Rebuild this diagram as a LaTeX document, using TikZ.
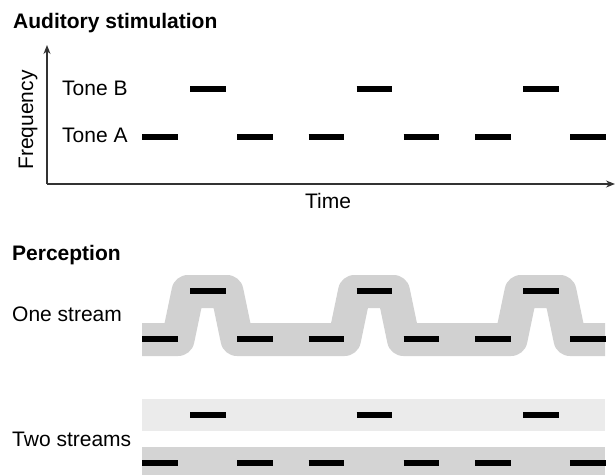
\documentclass[tikz,border=0pt]{standalone}
\usepackage{fontspec}
\setmainfont{Liberation Sans}
\usetikzlibrary{arrows.meta}
\begin{document}
\begin{tikzpicture}[x=1pt,y=-1pt,
  lbl/.style={anchor=base west,inner sep=0pt,font=\fontsize{21}{25}\selectfont},
  ttl/.style={lbl,font=\fontsize{21}{25}\selectfont\bfseries},
  tonedash/.style={line width=6pt,line cap=butt},
  axis/.style={line width=1.3pt,draw=black!80,-{Stealth[length=9pt,width=7pt]}},
  streamband/.style={line width=33pt,line join=round,line cap=butt,draw=black!18},
  lightband/.style={fill=black!8},
  darkband/.style={fill=black!17}]
\useasboundingbox (0,0) rectangle (615,475);
% titles and labels
\node[ttl] (t1) at (13,28) {Auditory stimulation};
\node[lbl] (tb) at (62,95) {Tone B};
\node[lbl] (ta) at (62,142) {Tone A};
\node[lbl,anchor=base] (time) at (328,208) {Time};
\node[lbl,anchor=base,rotate=90] (freq) at (33,120) {Frequency};
\node[ttl] (t2) at (12,260) {Perception};
\node[lbl] (one) at (12,321) {One stream};
\node[lbl] (two) at (12,446) {Two streams};
% axes
\coordinate (o) at (47,184);
\coordinate (ytop) at (47,45);
\coordinate (xend) at (615,184);
\draw[axis] (o) -- (ytop);
\draw[axis] (o) -- (xend);
% stimulation dashes
\foreach \p in {0,166.5,333}{
  \draw[tonedash] (142+\p,137) -- ++(35.5,0);
  \draw[tonedash] (190+\p,89) -- ++(35.5,0);
  \draw[tonedash] (237+\p,137) -- ++(35.5,0);
}
% one stream band
\draw[streamband] (142,339.5)
  -- (178,339.5) -- (188,291.5) -- (227,291.5) -- (237,339.5)
  -- (344.5,339.5) -- (354.5,291.5) -- (393.5,291.5) -- (403.5,339.5)
  -- (511,339.5) -- (521,291.5) -- (560,291.5) -- (570,339.5)
  -- (605,339.5);
\foreach \p in {0,166.5,333}{
  \draw[tonedash] (142+\p,339) -- ++(35.5,0);
  \draw[tonedash] (190+\p,291) -- ++(35.5,0);
  \draw[tonedash] (237+\p,339) -- ++(35.5,0);
}
% two streams bands
\fill[lightband] (142,399) rectangle (605,431);
\fill[darkband] (142,447) rectangle (605,475);
\foreach \p in {0,166.5,333}{
  \draw[tonedash] (142+\p,463) -- ++(35.5,0);
  \draw[tonedash] (190+\p,415) -- ++(35.5,0);
  \draw[tonedash] (237+\p,463) -- ++(35.5,0);
}
\end{tikzpicture}
\end{document}
